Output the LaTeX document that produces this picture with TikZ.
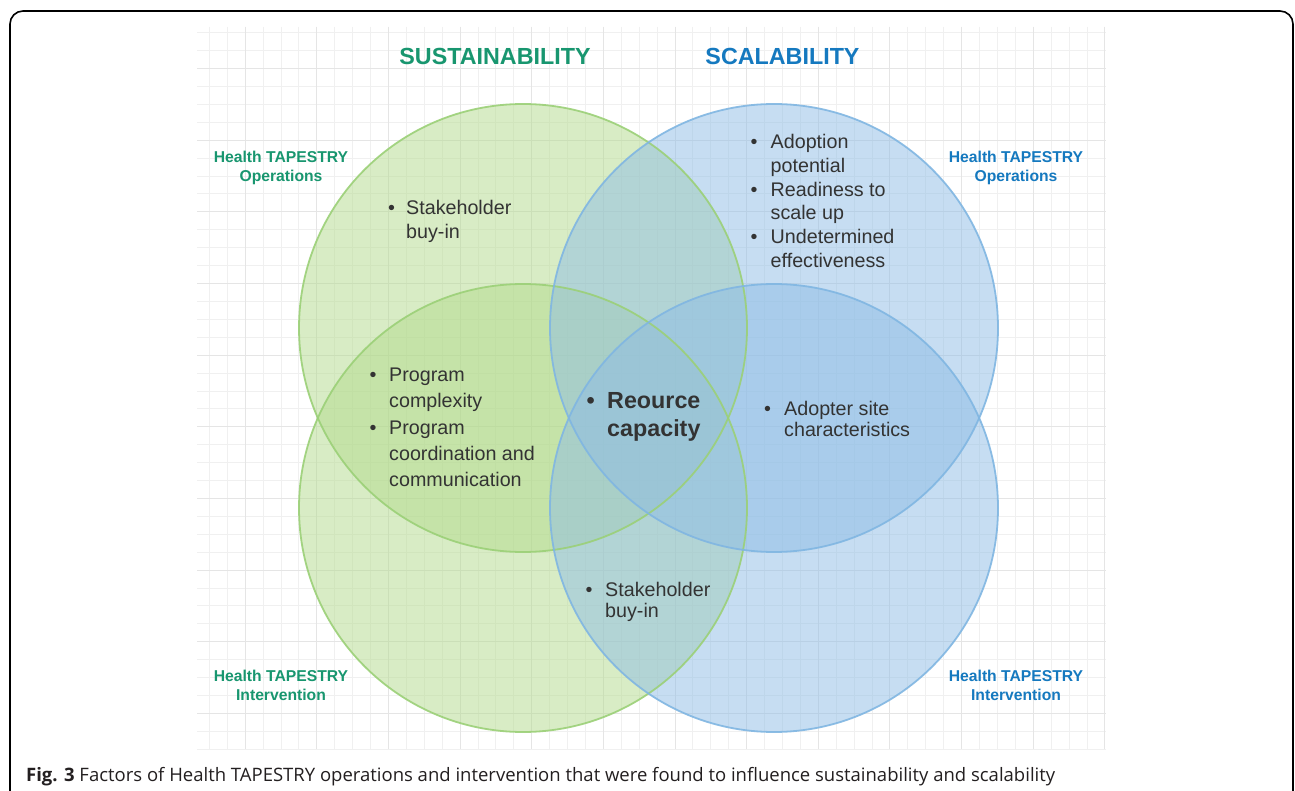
\documentclass[tikz,border=0pt]{standalone}
\usepackage{fontspec}
\setmainfont{Liberation Sans}
\newfontfamily\capfont{Open Sans}
\definecolor{gtitle}{HTML}{18966F}
\definecolor{btitle}{HTML}{1579BF}
\definecolor{gfill}{HTML}{B3DB8C}
\definecolor{bfill}{HTML}{8EBDE6}
\definecolor{gline}{HTML}{9BD077}
\definecolor{bline}{HTML}{80B6E2}
\definecolor{txt}{HTML}{333333}
\definecolor{captxt}{HTML}{231F20}
\definecolor{gridminor}{HTML}{F0F0F0}
\definecolor{gridmajor}{HTML}{E5E5E5}
\tikzset{
  minorgrid/.style={draw=gridminor, line width=0.8pt},
  majorgrid/.style={draw=gridmajor, line width=0.9pt},
  venn/.style={circle, minimum size=448pt, inner sep=0pt},
  gcirc/.style={venn, fill=gfill, fill opacity=0.5},
  bcirc/.style={venn, fill=bfill, fill opacity=0.5},
  gring/.style={venn, draw=gline, line width=1.8pt, draw opacity=0.9},
  bring/.style={venn, draw=bline, line width=1.8pt, draw opacity=0.9},
  maintitle/.style={anchor=base, font=\fontsize{23.3}{28}\selectfont\bfseries},
  sidelabel/.style={anchor=base, align=center, font=\fontsize{15.7}{19}\selectfont\bfseries},
  itemlist/.style={anchor=base west, inner sep=0pt, text=txt},
}
\begin{document}
\begin{tikzpicture}[x=1pt,y=-1pt]
\useasboundingbox (0,0) rectangle (1295,791);
\clip (0,0) rectangle (1295,791);
\fill[white] (0,0) rectangle (1295,791);
\draw[line width=1.6pt, rounded corners=13pt] (10,11) rectangle (1293,840);
% grid
\begin{scope}
\clip (197,27) rectangle (1106,749);
\foreach \i in {0,...,50} \draw[minorgrid] ({209.3+17.91*\i},27) -- ({209.3+17.91*\i},749);
\foreach \j in {0,...,40} \draw[minorgrid] (197,{32.7+17.91*\j}) -- (1106,{32.7+17.91*\j});
\foreach \i in {2,6,...,50} \draw[majorgrid] ({209.3+17.91*\i},27) -- ({209.3+17.91*\i},749);
\foreach \j in {2,6,...,38} \draw[majorgrid] (197,{32.7+17.91*\j}) -- (1106,{32.7+17.91*\j});
\end{scope}
% circles
\node[gcirc] (gtop) at (523,328) {};
\node[gcirc] (gbot) at (523,508) {};
\node[bcirc] (btop) at (774,328) {};
\node[bcirc] (bbot) at (774,508) {};
\node[gring] (gtopr) at (523,328) {};
\node[gring] (gbotr) at (523,508) {};
\node[bring] (btopr) at (774,328) {};
\node[bring] (bbotr) at (774,508) {};
% titles
\node[maintitle, text=gtitle] (sust) at (495,64.3) {SUSTAINABILITY};
\node[maintitle, text=btitle] (scal) at (782.5,64.3) {SCALABILITY};
\node[sidelabel, text=gtitle] (gops) at (281,181.5) {Health TAPESTRY\\Operations};
\node[sidelabel, text=btitle] (bops) at (1016,181.5) {Health TAPESTRY\\Operations};
\node[sidelabel, text=gtitle] (gint) at (281,700.5) {Health TAPESTRY\\Intervention};
\node[sidelabel, text=btitle] (bint) at (1016,700.5) {Health TAPESTRY\\Intervention};
% lists
\node[itemlist, font=\fontsize{19.7}{23.5}\selectfont] (l1) at (388,215)
  {\begin{tabular}[t]{@{}p{18pt}@{}l@{}}\textbullet & Stakeholder\\ & buy-in\end{tabular}};
\node[itemlist, font=\fontsize{19.7}{23.9}\selectfont] (l2) at (750.5,148.3)
  {\begin{tabular}[t]{@{}p{20pt}@{}l@{}}\textbullet & Adoption\\ & potential\\ \textbullet & Readiness to\\ & scale up\\ \textbullet & Undetermined\\ & effectiveness\end{tabular}};
\node[itemlist, font=\fontsize{19.7}{26.2}\selectfont] (l3) at (369.5,381.7)
  {\begin{tabular}[t]{@{}p{19.5pt}@{}l@{}}\textbullet & Program\\ & complexity\\ \textbullet & Program\\ & coordination and\\ & communication\end{tabular}};
\node[itemlist, font=\fontsize{19.7}{21.5}\selectfont] (l4) at (764,415)
  {\begin{tabular}[t]{@{}p{20pt}@{}l@{}}\textbullet & Adopter site\\ & characteristics\end{tabular}};
\node[itemlist, font=\fontsize{19.7}{21.5}\selectfont] (l5) at (585.5,596)
  {\begin{tabular}[t]{@{}p{19.5pt}@{}l@{}}\textbullet & Stakeholder\\ & buy-in\end{tabular}};
\node[itemlist, font=\fontsize{23.3}{28}\selectfont\bfseries] (l6) at (586.5,408.5)
  {\begin{tabular}[t]{@{}p{20.5pt}@{}l@{}}\textbullet & Reource\\ & capacity\end{tabular}};
% caption
\node[anchor=base west, inner sep=0pt, text=captxt, font=\capfont\fontsize{18.5}{22}\selectfont] (cap) at (26,781.7)
  {\textbf{Fig. 3} Factors of Health TAPESTRY operations and intervention that were found to influence sustainability and scalability};
\end{tikzpicture}
\end{document}
